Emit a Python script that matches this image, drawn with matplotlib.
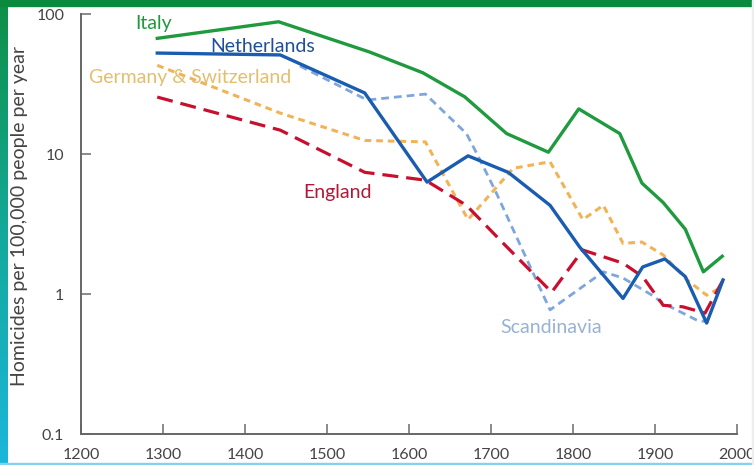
import numpy as np
import matplotlib
matplotlib.use("Agg")
import matplotlib.pyplot as plt
from matplotlib.patches import Rectangle
from matplotlib.colors import LinearSegmentedColormap

# homicide rates per 100,000
italy_yr = [1293, 1441, 1552, 1617, 1668, 1719, 1770, 1807, 1857, 1884, 1910, 1937, 1959, 1982]
italy = [67, 88, 53.5, 38, 25.6, 14, 10.3, 21, 14, 6.2, 4.5, 2.9, 1.44, 1.86]

neth_yr = [1293, 1443, 1546, 1622, 1672, 1721, 1772, 1808, 1861, 1885, 1912, 1937, 1963, 1983]
neth = [52.6, 51, 27.3, 6.3, 9.7, 7.4, 4.3, 2.17, 0.93, 1.56, 1.78, 1.33, 0.62, 1.26]

germ_yr = [1293, 1443, 1546, 1620, 1672, 1727, 1772, 1812, 1837, 1861, 1884, 1910, 1939, 1963, 1979]
germ = [43, 19.6, 12.5, 12.2, 3.4, 7.9, 8.8, 3.4, 4.3, 2.3, 2.35, 1.9, 1.26, 0.98, 1.1]

scan_yr = [1467, 1549, 1620, 1670, 1683, 1705, 1772, 1837, 1861, 1894, 1910, 1951, 1965]
scan = [42.5, 24.3, 26.8, 14, 10, 5.5, 0.77, 1.44, 1.3, 1.0, 0.86, 0.65, 0.63]

eng_yr = [1293, 1443, 1546, 1620, 1670, 1711, 1774, 1812, 1861, 1885, 1910, 1934, 1961, 1983]
eng = [25.5, 14.8, 7.4, 6.5, 4.3, 2.43, 1.03, 2.06, 1.66, 1.33, 0.83, 0.81, 0.73, 1.26]

x_ticks = [1200, 1300, 1400, 1500, 1600, 1700, 1800, 1900, 2000]
y_ticks = [0.1, 1, 10, 100]
y_labels = ["0.1", "1", "10", "100"]

plt.rcParams['font.family'] = ['Lato', 'DejaVu Sans']

fig = plt.figure(figsize=(7.54, 4.65), dpi=100)
W, H = 754, 465

# frame decorations (green top band, teal left band, cyan bottom line)
grad = np.linspace(0, 1, 256).reshape(-1, 1)
bax = fig.add_axes([0, 0, 8 / W, 1])
cm = LinearSegmentedColormap.from_list("edge", ["#0f8f45", "#14a99a", "#1cb6dc"])
bax.imshow(grad, aspect="auto", cmap=cm, extent=[0, 1, 1, 0])
bax.axis("off")
fig.patches.append(Rectangle((0, 1 - 6 / H), 1, 6 / H, transform=fig.transFigure,
                             color="#0b8a3e", zorder=5))
fig.patches.append(Rectangle((0, 0), 1, 2 / H, transform=fig.transFigure,
                             color="#7fd3ee", zorder=5))
fig.patches.append(Rectangle((1 - 2 / W, 0), 2 / W, 1, transform=fig.transFigure,
                             color="#eeeeee", zorder=5))

ax = fig.add_axes([81 / W, 31 / H, (737 - 81) / W, (434 - 14) / H])
ax.set_yscale("log")
ax.set_xlim(1200, 2000)
ax.set_ylim(0.1, 100)

ax.plot(germ_yr, germ, color="#f2b358", lw=2.2, dashes=(2.2, 1.6))
ax.plot(scan_yr, scan, color="#7fa6dc", lw=2.0, dashes=(2.8, 1.8))
ax.plot(eng_yr, eng, color="#c8102e", lw=2.3, dashes=(5, 2.5))
ax.plot(neth_yr, neth, color="#1a5cb0", lw=2.4)
ax.plot(italy_yr, italy, color="#1f9a3e", lw=2.4)

lab = dict(fontsize=14, va="center", ha="left")
ax.text(1266, 86, "Italy", color="#1f9a3e", **lab)
ax.text(1358, 59, "Netherlands", color="#1f4f98", **lab)
ax.text(1210, 35, "Germany & Switzerland", color="#e2bf6e", **lab)
ax.text(1471, 5.3, "England", color="#b0183a", **lab)
ax.text(1711, 0.58, "Scandinavia", color="#98b2d4", **lab)

ax.set_xticks(x_ticks)
ax.set_xticklabels([str(t) for t in x_ticks])
ax.set_yticks(y_ticks)
ax.set_yticklabels(y_labels)
ax.minorticks_off()
ax.tick_params(axis="both", direction="in", length=7, width=1.2, color="#777777",
               labelcolor="#444444", labelsize=11.5)
ax.tick_params(axis="x", pad=10)
ax.tick_params(axis="y", pad=12)
for s in ["top", "right"]:
    ax.spines[s].set_visible(False)
for s in ["left", "bottom"]:
    ax.spines[s].set_color("#666666")
    ax.spines[s].set_linewidth(1.4)

ax.set_ylabel("Homicides per 100,000 people per year", fontsize=14, color="#444444")
ax.yaxis.set_label_coords(-0.081, 0.52)

fig.savefig("out.png", dpi=100)
